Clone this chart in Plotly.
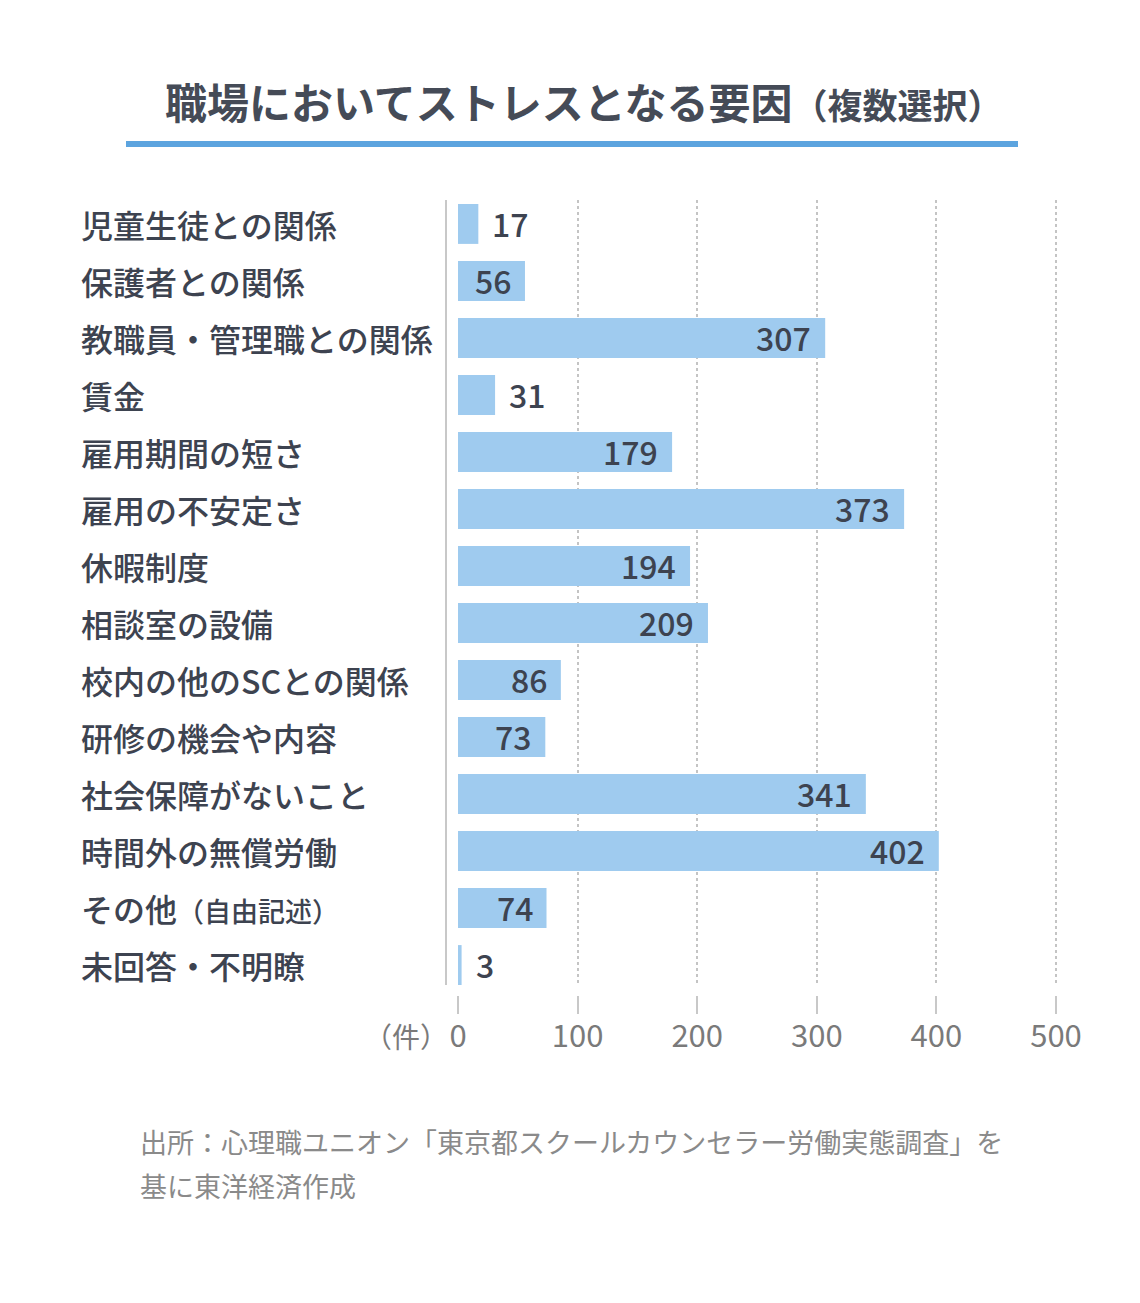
import plotly.graph_objects as go

W, H = 1140, 1303
OFF = 8  # page body margin shifts the figure
FONT = "Noto Sans CJK JP"
TEXT_DARK = "#3d4350"

categories = [
    "児童生徒との関係", "保護者との関係", "教職員・管理職との関係", "賃金",
    "雇用期間の短さ", "雇用の不安定さ", "休暇制度", "相談室の設備",
    "校内の他のSCとの関係", "研修の機会や内容", "社会保障がないこと",
    "時間外の無償労働", "その他（自由記述）", "未回答・不明瞭",
]
counts = [17, 56, 307, 31, 179, 373, 194, 209, 86, 73, 341, 402, 74, 3]
tick_vals = [0, 100, 200, 300, 400, 500]
grid_vals = [100, 200, 300, 400, 500]

# plot area in figure pixels
L, R, T, B = 447 - OFF, 86, 200 - OFF, 1303 - (995 - OFF)
pw = W - L - R
ph = H - T - B


def px_x(px):
    return (px - OFF - L) / pw


def px_y(py):
    return (H - B - (py - OFF)) / ph


fig = go.Figure()
fig.add_trace(go.Bar(
    x=counts,
    y=categories,
    orientation="h",
    width=0.7,
    marker=dict(color="#9fcbef", line=dict(width=0)),
    hoverinfo="x+y",
))
# invisible trace so the tick axis is drawn
fig.add_trace(go.Scatter(x=[0], y=[categories[0]], xaxis="x2",
                         mode="markers", marker=dict(opacity=0),
                         hoverinfo="skip", showlegend=False))

fig.update_layout(
    width=W, height=H,
    paper_bgcolor="white", plot_bgcolor="white",
    margin=dict(l=L, r=R, t=T, b=B),
    showlegend=False,
    xaxis=dict(
        range=[-9.2, 505],
        tickvals=grid_vals,
        showticklabels=False,
        showgrid=True, gridcolor="#c4c4c4", gridwidth=1.5, griddash="dot",
        zeroline=False, showline=False, ticks="",
    ),
    xaxis2=dict(
        overlaying="x",
        anchor="free", position=0,
        range=[-9.2, 505],
        tickvals=tick_vals,
        ticks="outside", ticklen=18, tickwidth=1.5, tickcolor="#c8c8c8",
        ticklabelstandoff=-4,
        tickfont=dict(family=FONT, size=31, color="#7a7a7a"),
        showgrid=False, zeroline=False, showline=False,
    ),
    yaxis=dict(
        type="category",
        domain=[10 / ph, 1],
        range=[13.35, -0.42],
        showticklabels=False,
        showgrid=False, zeroline=False,
        showline=True, linecolor="#c8c8c8", linewidth=2,
        ticks="",
    ),
)

# value labels: inside the bar end for long bars, outside for short ones
for c, v in zip(categories, counts):
    inside = v >= 50
    fig.add_annotation(
        x=v, xref="x", y=c, yref="y",
        xanchor="right" if inside else "left", yanchor="middle",
        xshift=-12 if inside else 12, yshift=1,
        text=str(v), showarrow=False,
        font=dict(family=FONT, size=32, color=TEXT_DARK, weight=500),
    )

# category labels, left aligned
for c in categories:
    shown = c.replace("（自由記述）", "<span style='font-size:27px'>（自由記述）</span>")
    fig.add_annotation(
        x=px_x(79), xref="paper", xanchor="left",
        y=c, yref="y", yanchor="middle",
        text=shown, showarrow=False,
        font=dict(family=FONT, size=32, color=TEXT_DARK, weight=500),
    )

# unit label
fig.add_annotation(
    x=px_x(450), xref="paper", xanchor="right",
    y=px_y(1036), yref="paper", yanchor="middle",
    text="（件）", showarrow=False,
    font=dict(family=FONT, size=28, color="#7a7a7a"),
)

# title
fig.add_annotation(
    x=px_x(584), xref="paper", xanchor="center",
    y=px_y(100), yref="paper", yanchor="middle",
    text="職場においてストレスとなる要因<span style='font-size:35px'>（複数選択）</span>",
    showarrow=False,
    font=dict(family=FONT, size=42, color="#454b57", weight=700),
)
fig.add_shape(
    type="line", xref="paper", yref="paper",
    x0=px_x(126), x1=px_x(1018), y0=px_y(144), y1=px_y(144),
    line=dict(color="#5ca4df", width=6),
)

# source
for text, yy in [("出所：心理職ユニオン「東京都スクールカウンセラー労働実態調査」を", 1141),
                 ("基に東洋経済作成", 1185)]:
    fig.add_annotation(
        x=px_x(138), xref="paper", xanchor="left",
        y=px_y(yy), yref="paper", yanchor="middle",
        text=text, showarrow=False, align="left",
        font=dict(family=FONT, size=27, color="#8a8a8a"),
    )

fig.write_html("out.html")
